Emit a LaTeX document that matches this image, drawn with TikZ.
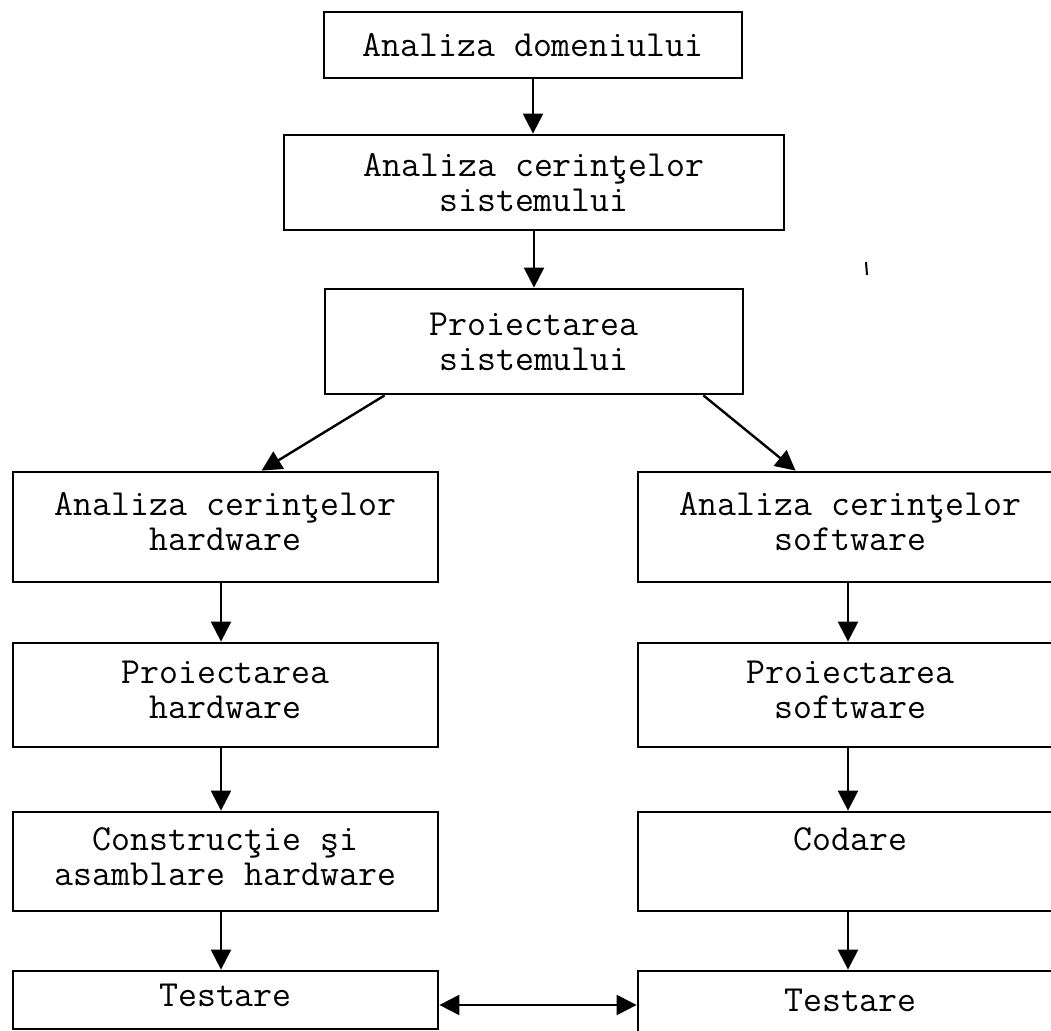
\documentclass[tikz,border=0pt]{standalone}
\usepackage{fontspec}
\usetikzlibrary{arrows.meta}
\begin{document}
\begin{tikzpicture}[x=0.5pt,y=-0.5pt,
  stage/.style={draw,line width=1.4pt,rectangle,align=center,inner sep=0pt,
    font=\ttfamily\fontsize{18.4}{17.5}\selectfont},
  colbox/.style={stage,minimum width=212.5pt,text depth=5pt},
  flow/.style={line width=1.2pt,-{Triangle[length=10pt,width=10pt]}},
  twoway/.style={line width=1.2pt,{Triangle[length=10pt,width=10pt]}-{Triangle[length=10pt,width=10pt]}}]
\useasboundingbox (0,0) rectangle (1051,1031);
\clip (0,0) rectangle (1051,1031);

% common trunk
\node[stage,minimum width=209pt,minimum height=33pt] (dom) at (533,45) {Analiza domeniului};
\node[stage,minimum width=250pt,minimum height=47.5pt] (req) at (534,182.5) {Analiza cerinţelor\\sistemului};
\node[stage,minimum width=209pt,minimum height=52.5pt] (sys) at (534,341.5) {Proiectarea\\sistemului};

% hardware branch
\node[colbox,minimum height=55pt] (hwreq) at (225.5,527) {Analiza cerinţelor\\hardware};
\node[colbox,minimum height=52pt] (hwdes) at (225.5,695) {Proiectarea\\hardware};
\node[colbox,minimum height=49.5pt] (hwbuild) at (225.5,861.5) {Construcţie şi\\asamblare hardware};
\node[colbox,minimum height=29pt] (hwtest) at (225.5,1000) {Testare};

% software branch
\node[colbox,minimum height=55pt] (swreq) at (850.5,527) {Analiza cerinţelor\\software};
\node[colbox,minimum height=52pt] (swdes) at (850.5,695) {Proiectarea\\software};
\node[colbox,minimum height=49.5pt] (code) at (850.5,861.5) {Codare\\\mbox{}};
\node[colbox,minimum height=34pt] (swtest) at (850.5,1005) {Testare};

% connectors
\draw[flow] (dom.south) -- (dom.south |- req.north);
\draw[flow] (req.south) -- (req.south |- sys.north);
\draw[flow] ([xshift=30.5pt]sys.south west) -- ([xshift=125pt]hwreq.north west);
\draw[flow] ([xshift=-20.5pt]sys.south east) -- ([xshift=79.5pt]swreq.north west);

\draw[flow] ([xshift=-2.25pt]hwreq.south) -- ([xshift=-2.25pt]hwdes.north);
\draw[flow] ([xshift=-2.25pt]hwdes.south) -- ([xshift=-2.25pt]hwbuild.north);
\draw[flow] ([xshift=-2.25pt]hwbuild.south) -- ([xshift=-2.25pt]hwtest.north);

\draw[flow] ([xshift=-1.25pt]swreq.south) -- ([xshift=-1.25pt]swdes.north);
\draw[flow] ([xshift=-1.25pt]swdes.south) -- ([xshift=-1.25pt]code.north);
\draw[flow] ([xshift=-1.25pt]code.south) -- ([xshift=-1.25pt]swtest.north);

\draw[twoway] ([yshift=-2.5pt]hwtest.east) -- (swtest.west);

% small stray stroke
\draw[line width=1pt] (866,262) -- (867,275);
\end{tikzpicture}
\end{document}
